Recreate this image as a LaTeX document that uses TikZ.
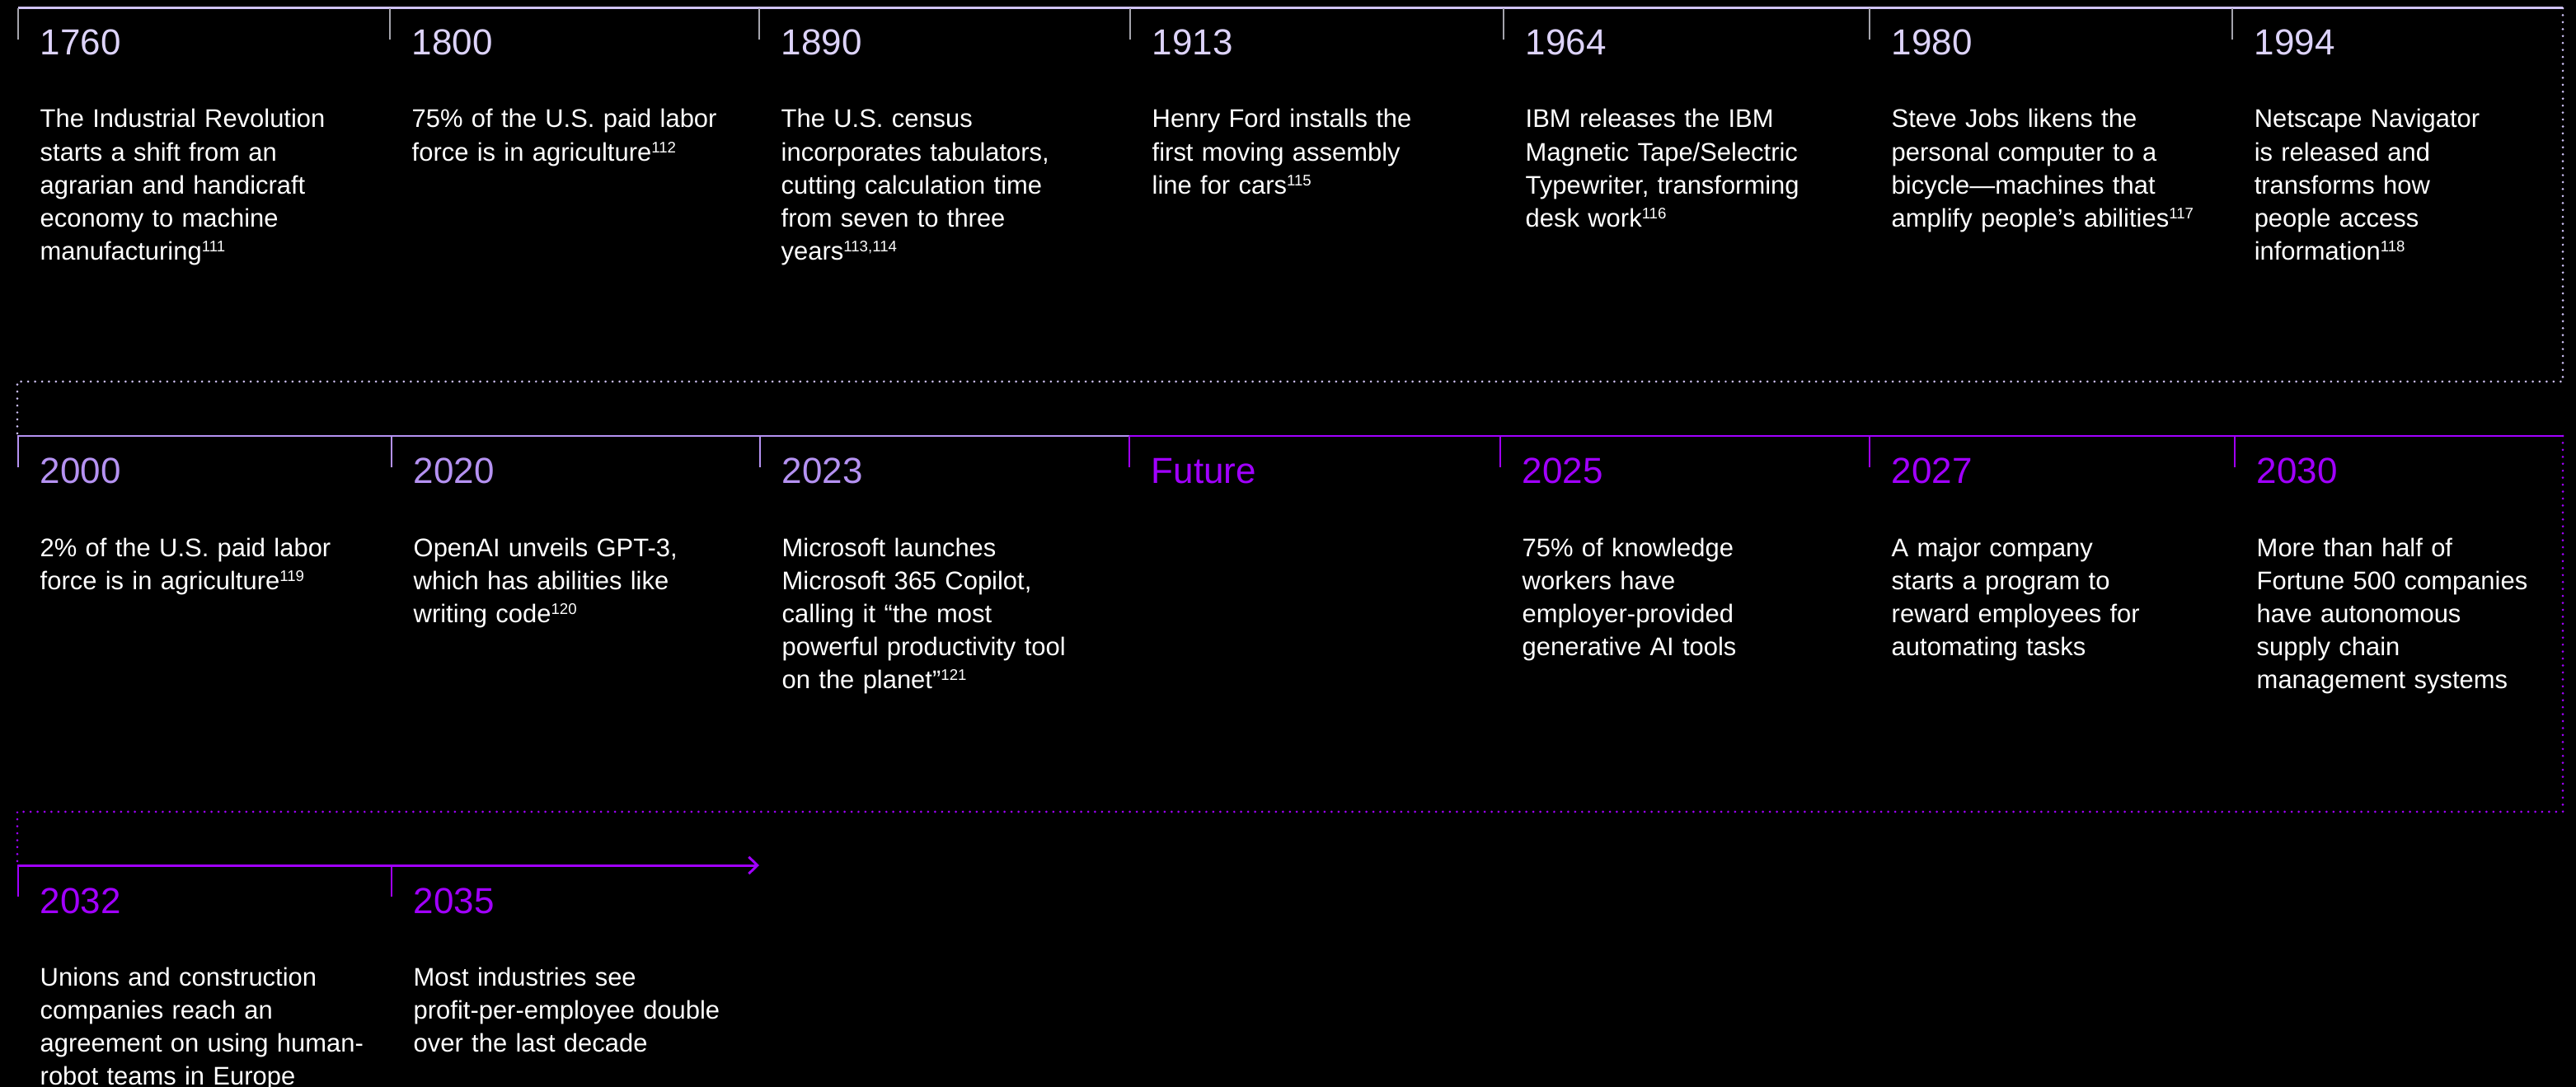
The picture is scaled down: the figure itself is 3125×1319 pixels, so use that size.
\documentclass[tikz,border=0pt]{standalone}
\usepackage{fontspec}
\setmainfont{Liberation Sans}
\usetikzlibrary{arrows.meta}

\definecolor{pastline}{HTML}{CFC2F7}
\definecolor{pasttick}{HTML}{A4A4AC}
\definecolor{pastyear}{HTML}{DDD3FA}
\definecolor{nearline}{HTML}{B592F2}
\definecolor{futpurple}{HTML}{A100FF}

% note numbers
\newcommand{\srcref}[1]{\raisebox{2.6pt}{\fontsize{5.3}{6}\selectfont #1}}

\begin{document}
\begin{tikzpicture}[x=0.01cm, y=-0.01cm,
    yr/.style={anchor=base west, inner sep=0pt, font=\fontsize{12.5}{15}\selectfont},
    desc/.style={anchor=base west, inner sep=0pt, text=white, text width=6cm, align=left,
        font=\fontsize{8.8}{11.38}\selectfont},
    axis/.style={line width=0.85pt},
    tickmark/.style={line width=0.6pt},
    dots/.style={line width=0.85pt, line cap=round, dash pattern=on 0pt off 2.4pt}]
    % Page
    \fill[black] (0,0) rectangle (3125,1319);
    \useasboundingbox (0,0) rectangle (3125,1319);

    % Row 1: 1760 - 1994
    \coordinate (r1s) at (22,10);
    \coordinate (r1e) at (3109,10);
    \draw[axis, pastline] (r1s) -- (r1e);
    \foreach \x/\yr/\txt in {
        22/1760/{The Industrial Revolution\\starts a shift from an\\agrarian and handicraft\\economy to machine\\manufacturing\srcref{111}},
        473/1800/{75\% of the U.S. paid labor\\force is in agriculture\srcref{112}},
        921/1890/{The U.S. census\\incorporates tabulators,\\cutting calculation time\\from seven to three\\years\srcref{113,114}},
        1371/1913/{Henry Ford installs the\\first moving assembly\\line for cars\srcref{115}},
        1824/1964/{IBM releases the IBM\\Magnetic Tape/Selectric\\Typewriter, transforming\\desk work\srcref{116}},
        2268/1980/{Steve Jobs likens the\\personal computer to a\\bicycle---machines that\\amplify people's abilities\srcref{117}},
        2708/1994/{Netscape Navigator\\is released and\\transforms how\\people access\\information\srcref{118}}}{
        \draw[tickmark, pasttick] (\x,10) -- ++(0,38);
        \node[yr, pastyear] (y\yr) at (\x+26,67) {\yr};
        \node[desc] (e\yr) at (\x+26,155) {\txt};
    }

    % Turn to row 2
    \coordinate (t1a) at (3109,463);
    \coordinate (t1b) at (21,463);
    \coordinate (r2s) at (21,529);
    \draw[dots, pastline] (r1e) -- (t1a) -- (t1b) -- (r2s);

    % Row 2: 2000 - 2030
    \coordinate (r2f) at (1370,529);
    \coordinate (r2e) at (3109,529);
    \draw[axis, nearline] (r2s) -- (r2f);
    \draw[axis, futpurple] (r2f) -- (r2e);
    \foreach \x/\yr/\txt in {
        22/2000/{2\% of the U.S. paid labor\\force is in agriculture\srcref{119}},
        475/2020/{OpenAI unveils GPT-3,\\which has abilities like\\writing code\srcref{120}},
        922/2023/{Microsoft launches\\Microsoft 365 Copilot,\\calling it ``the most\\powerful productivity tool\\on the planet''\srcref{121}}}{
        \draw[tickmark, nearline] (\x,529) -- ++(0,38);
        \node[yr, nearline] (y\yr) at (\x+26,587) {\yr};
        \node[desc] (e\yr) at (\x+26,675) {\txt};
    }
    \draw[tickmark, futpurple] (r2f) -- ++(0,38);
    \node[yr, futpurple] (yfut) at (1396,587) {Future};
    \foreach \x/\yr/\txt in {
        1820/2025/{75\% of knowledge\\workers have\\employer-provided\\generative AI tools},
        2268/2027/{A major company\\starts a program to\\reward employees for\\automating tasks},
        2711/2030/{More than half of\\Fortune 500 companies\\have autonomous\\supply chain\\management systems}}{
        \draw[tickmark, futpurple] (\x,529) -- ++(0,38);
        \node[yr, futpurple] (y\yr) at (\x+26,587) {\yr};
        \node[desc] (e\yr) at (\x+26,675) {\txt};
    }

    % Turn to row 3
    \coordinate (t2a) at (3109,985);
    \coordinate (t2b) at (21,985);
    \coordinate (r3s) at (21,1050);
    \draw[dots, futpurple] (r2e) -- (t2a) -- (t2b) -- (r3s);

    % Row 3: 2032 - 2035
    \coordinate (r3e) at (921,1050);
    \draw[axis, futpurple, -{Straight Barb[length=3pt, width=5.8pt]}] (r3s) -- (r3e);
    \foreach \x/\yr/\txt in {
        22/2032/{Unions and construction\\companies reach an\\agreement on using human-\\robot teams in Europe},
        475/2035/{Most industries see\\profit-per-employee double\\over the last decade}}{
        \draw[tickmark, futpurple] (\x,1050) -- ++(0,38);
        \node[yr, futpurple] (y\yr) at (\x+26,1108) {\yr};
        \node[desc] (e\yr) at (\x+26,1196) {\txt};
    }
\end{tikzpicture}
\end{document}
